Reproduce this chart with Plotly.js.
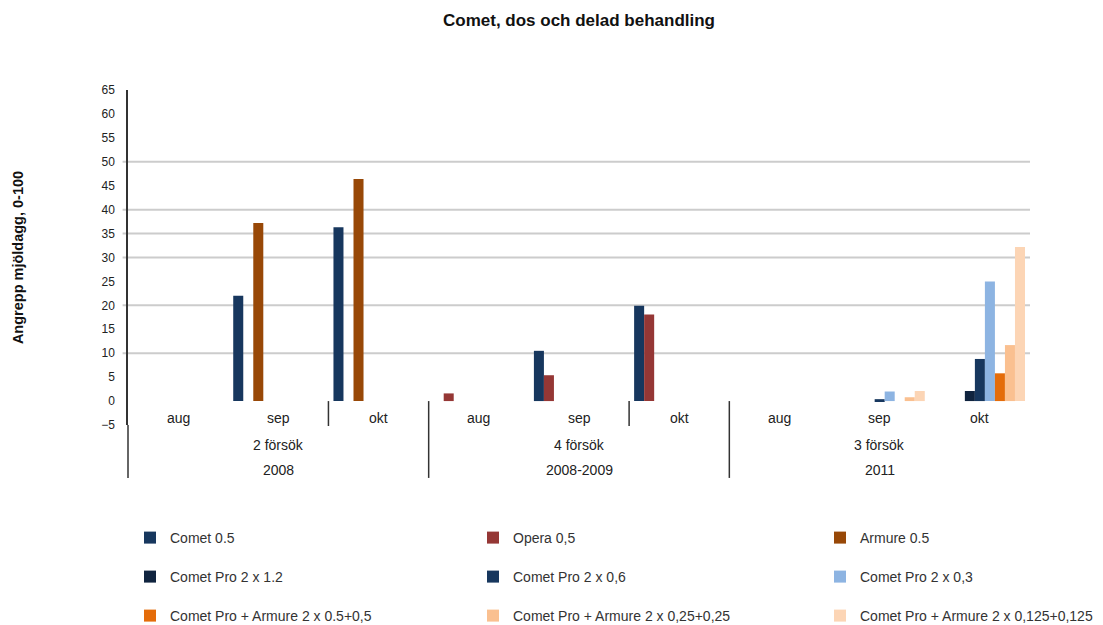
<!DOCTYPE html>
<html>
<head>
<meta charset="utf-8">
<script src="https://cdn.plot.ly/plotly-3.0.1.min.js"></script>
<style>html,body{margin:0;padding:0;background:#fff;}#chart{width:1103px;height:625px;}</style>
</head>
<body>
<div id="chart"></div>
<script>
// ---- data ----
const years = ['2008', '2008-2009', '2011'];
const trials = ['2 försök', '4 försök', '3 försök'];
const months = ['aug', 'sep', 'okt'];
const categories = [];
years.forEach(y => months.forEach(m => categories.push(y + ' ' + m)));

const seriesNames = [
  'Comet 0.5', 'Opera 0,5', 'Armure 0.5',
  'Comet Pro 2 x 1.2', 'Comet Pro 2 x 0,6', 'Comet Pro 2 x 0,3',
  'Comet Pro + Armure 2 x 0.5+0,5', 'Comet Pro + Armure 2 x 0,25+0,25', 'Comet Pro + Armure 2 x 0,125+0,125'
];
const comet05      = [null, 22.0, 36.3, null, 10.5, 19.9, null, null, null];
const opera05      = [null, null, null, 1.6, 5.4, 18.1, null, null, null];
const armure05     = [null, 37.2, 46.4, null, null, null, null, null, null];
const cometPro12   = [null, null, null, null, null, null, null, null, 2.1];
const cometPro06   = [null, null, null, null, null, null, null, 0.4, 8.8];
const cometPro03   = [null, null, null, null, null, null, null, 2.0, 25.0];
const cpArm05      = [null, null, null, null, null, null, null, null, 5.8];
const cpArm025     = [null, null, null, null, null, null, null, 0.8, 11.7];
const cpArm0125    = [null, null, null, null, null, null, null, 2.1, 32.2];
const seriesValues = [comet05, opera05, armure05, cometPro12, cometPro06, cometPro03, cpArm05, cpArm025, cpArm0125];

const yTicks = [-5, 0, 5, 10, 15, 20, 25, 30, 35, 40, 45, 50, 55, 60, 65];
const gridValues = [10, 20, 30, 35, 40, 50];
const shortDividers = [1.5, 4.5];
const longDividers = [2.5, 5.5];

// ---- styles ----
const colors = ['#17375E', '#953735', '#984807', '#10243F', '#17375E', '#8DB4E2', '#E46C0A', '#FAC090', '#FCD5B5'];
const FONT = 'Liberation Sans, Arial, sans-serif';
const W = 1103, H = 625, ML = 128, MR = 73, MT = 90, MB = 200;
const PW = W - ML - MR, PH = H - MT - MB;
const legendColX = [130, 473, 820];   // px, legend box left
const legendRowY = [538, 577, 616];   // px, row centres

const traces = seriesNames.map((n, i) => ({
  type: 'bar', name: n, x: categories, y: seriesValues[i],
  marker: {color: colors[i], line: {width: 0}},
  legend: i === 0 ? 'legend' : 'legend' + (i + 1), hoverinfo: 'name+y'
}));

const zeroFrac = 5 / 70;
const shapes = [];
gridValues.forEach(v => shapes.push({type: 'line', layer: 'below', xref: 'paper', yref: 'y',
  x0: -0.006, x1: 1, y0: v, y1: v, line: {color: '#cccccc', width: 2}}));
shortDividers.forEach(d => shapes.push({type: 'line', xref: 'x', yref: 'paper',
  x0: d, x1: d, y0: zeroFrac, y1: -0.003, line: {color: '#333333', width: 1.5}}));
longDividers.forEach(d => shapes.push({type: 'line', xref: 'x', yref: 'paper',
  x0: d, x1: d, y0: zeroFrac, y1: -0.158, line: {color: '#333333', width: 1.5}}));
shapes.push({type: 'line', xref: 'paper', yref: 'paper', x0: 0, x1: 0, y0: 0, y1: -0.158,
  line: {color: '#333333', width: 1.5}});

const labelFont = {size: 14, color: '#222', family: FONT};
const annotations = [];
categories.forEach((c, i) => annotations.push({xref: 'x', yref: 'y', x: c, y: -3.5,
  text: months[i % 3], showarrow: false, yanchor: 'middle', font: labelFont}));
trials.forEach((t, g) => annotations.push({xref: 'x', yref: 'paper', x: categories[g * 3 + 1], y: -0.06,
  text: t, showarrow: false, yanchor: 'middle', font: labelFont}));
years.forEach((y, g) => annotations.push({xref: 'x', yref: 'paper', x: categories[g * 3 + 1], y: -0.134,
  text: y, showarrow: false, yanchor: 'middle', font: labelFont}));

const layout = {
  width: W, height: H,
  margin: {l: ML, r: MR, t: MT, b: MB, autoexpand: false},
  paper_bgcolor: '#fff', plot_bgcolor: '#fff',
  font: {family: FONT, size: 13, color: '#222'},
  title: {text: 'Comet, dos och delad behandling', x: 0.5, xref: 'paper', xanchor: 'center',
    y: 0.968, yref: 'container', yanchor: 'middle', font: {size: 17, family: FONT, color: '#111', weight: 'bold'}},
  barmode: 'group', bargap: 0.1, bargroupgap: 0,
  xaxis: {type: 'category', range: [-0.5, 8.5], showticklabels: false, showline: false, showgrid: false,
    zeroline: false, ticks: ''},
  yaxis: {range: [-5, 65], tickvals: yTicks, showgrid: false, zeroline: false, showline: true,
    linecolor: '#333333', linewidth: 1.5, ticks: 'outside', ticklen: 9, tickcolor: 'rgba(0,0,0,0)',
    tickfont: {size: 12, color: '#222', family: FONT},
    title: {text: 'Angrepp mjöldagg, 0-100', standoff: 74, font: {size: 14.5, family: FONT, color: '#111', weight: 'bold'}}},
  showlegend: true,
  shapes: shapes,
  annotations: annotations
};
seriesNames.forEach((n, i) => {
  const key = i === 0 ? 'legend' : 'legend' + (i + 1);
  layout[key] = {orientation: 'h', x: (legendColX[i % 3] - ML) / PW, xanchor: 'left',
    y: (H - MB - legendRowY[Math.floor(i / 3)]) / PH, yanchor: 'middle',
    bgcolor: 'rgba(0,0,0,0)', borderwidth: 0,
    font: {size: 14, color: '#333', family: FONT}};
});

Plotly.newPlot('chart', traces, layout, {displayModeBar: false, responsive: false});
</script>
</body>
</html>
